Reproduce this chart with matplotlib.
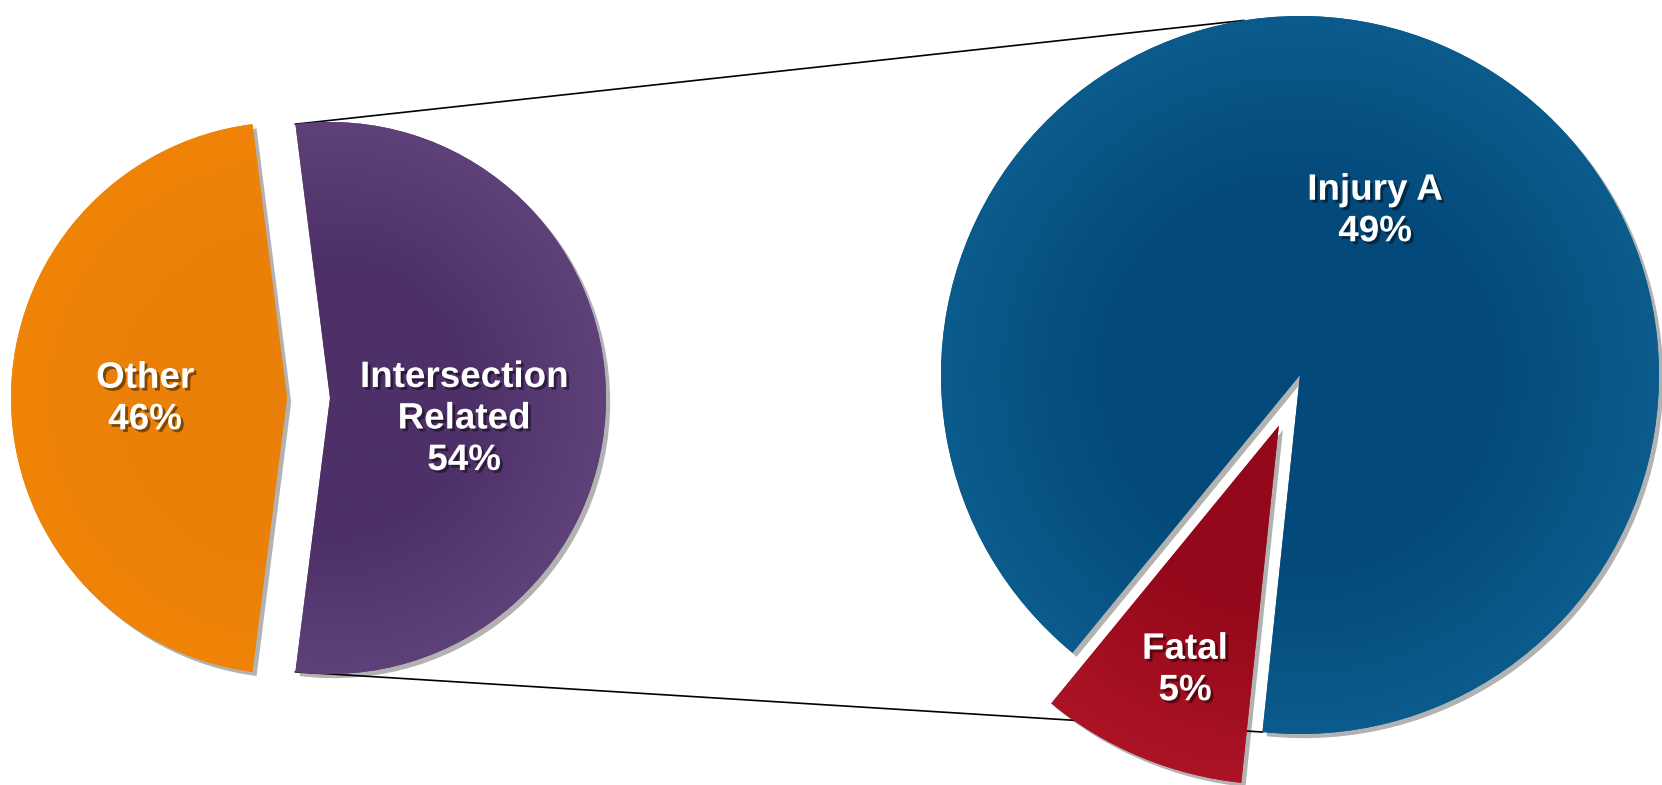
import numpy as np
import matplotlib
matplotlib.use("Agg")
import matplotlib.pyplot as plt
import matplotlib.patheffects as pe
from matplotlib.colors import LinearSegmentedColormap

# data
main_labels = ["Other", "Intersection\nRelated"]
main_values = [46, 54]
main_colors = [("#EA8008", "#F08409"), ("#4E3068", "#5F417A")]

sub_labels = ["Injury A", "Fatal"]
sub_values = [49, 5]
sub_colors = [("#03497A", "#0B5B8C"), ("#93081A", "#AC1426")]

W, H = 1662, 785
fig = plt.figure(figsize=(W / 100, H / 100), dpi=100)
ax = fig.add_axes([0, 0, 1, 1])

shadow = [pe.withSimplePatchShadow(offset=(3, -3), shadow_rgbFace="black", alpha=0.3)]

# left pie (explode is in data units = pixels here)
c1 = (308.5, H - 398)
r1 = 276
w1, _ = ax.pie(main_values, startangle=97.2, radius=r1, center=c1,
               explode=[21.5, 21.5], frame=True,
               wedgeprops=dict(linewidth=0))

# right pie (breakdown of intersection related)
c2 = (1300, H - 375)
r2 = 359
w2, _ = ax.pie(sub_values, startangle=264, radius=r2, center=c2,
               explode=[0, 55], frame=True,
               wedgeprops=dict(linewidth=0))


def shade(wedge, cols):
    wedge.set_facecolor(cols[1])
    wedge.set_path_effects(shadow)
    cx, cy = wedge.center
    r = wedge.r
    n = 300
    xs = np.linspace(cx - r, cx + r, n)
    ys = np.linspace(cy - r, cy + r, n)
    X, Y = np.meshgrid(xs, ys)
    D = np.clip(np.hypot(X - cx, Y - cy) / r, 0, 1)
    cmap = LinearSegmentedColormap.from_list("g", [cols[0], cols[0], cols[1]])
    im = ax.imshow(D, cmap=cmap, origin="lower", extent=(cx - r, cx + r, cy - r, cy + r),
                   zorder=wedge.get_zorder() + 0.1, interpolation="bilinear")
    im.set_clip_path(wedge)


for w, c in zip(w1, main_colors):
    shade(w, c)
for w, c in zip(w2, sub_colors):
    shade(w, c)

# connector lines from intersection slice to right pie
ip = w1[1]
a_top = np.deg2rad(ip.theta2)
a_bot = np.deg2rad(ip.theta1)
p_top = (ip.center[0] + r1 * np.cos(a_top), ip.center[1] + r1 * np.sin(a_top))
p_bot = (ip.center[0] + r1 * np.cos(a_bot), ip.center[1] + r1 * np.sin(a_bot))
q_top_a = np.deg2rad(99)
q_bot_a = np.deg2rad(w2[0].theta1)
q_top = (c2[0] + r2 * np.cos(q_top_a), c2[1] + r2 * np.sin(q_top_a))
q_bot = (c2[0] + r2 * np.cos(q_bot_a), c2[1] + r2 * np.sin(q_bot_a))
ax.plot([p_top[0], q_top[0]], [p_top[1], q_top[1]], color="black", lw=1.2, zorder=0)
ax.plot([p_bot[0], q_bot[0]], [p_bot[1], q_bot[1]], color="black", lw=1.2, zorder=0)

# labels
txt_fx = [pe.withSimplePatchShadow(offset=(2, -2), shadow_rgbFace="black", alpha=0.45)]
kw = dict(color="white", fontsize=26.5, fontweight="bold", family="Liberation Sans",
          ha="center", va="center", linespacing=1.24, zorder=10, path_effects=txt_fx)

ax.text(145, H - 399, f"{main_labels[0]}\n{main_values[0]}%", **kw)
ax.text(464, H - 419, f"{main_labels[1]}\n{main_values[1]}%", **kw)
ax.text(1375, H - 211, f"{sub_labels[0]}\n{sub_values[0]}%", **kw)
ax.text(1185, H - 670, f"{sub_labels[1]}\n{sub_values[1]}%", **kw)

ax.set_xlim(0, W)
ax.set_ylim(0, H)
ax.set_aspect("auto")
ax.axis("off")

fig.savefig("out.png", dpi=100)
